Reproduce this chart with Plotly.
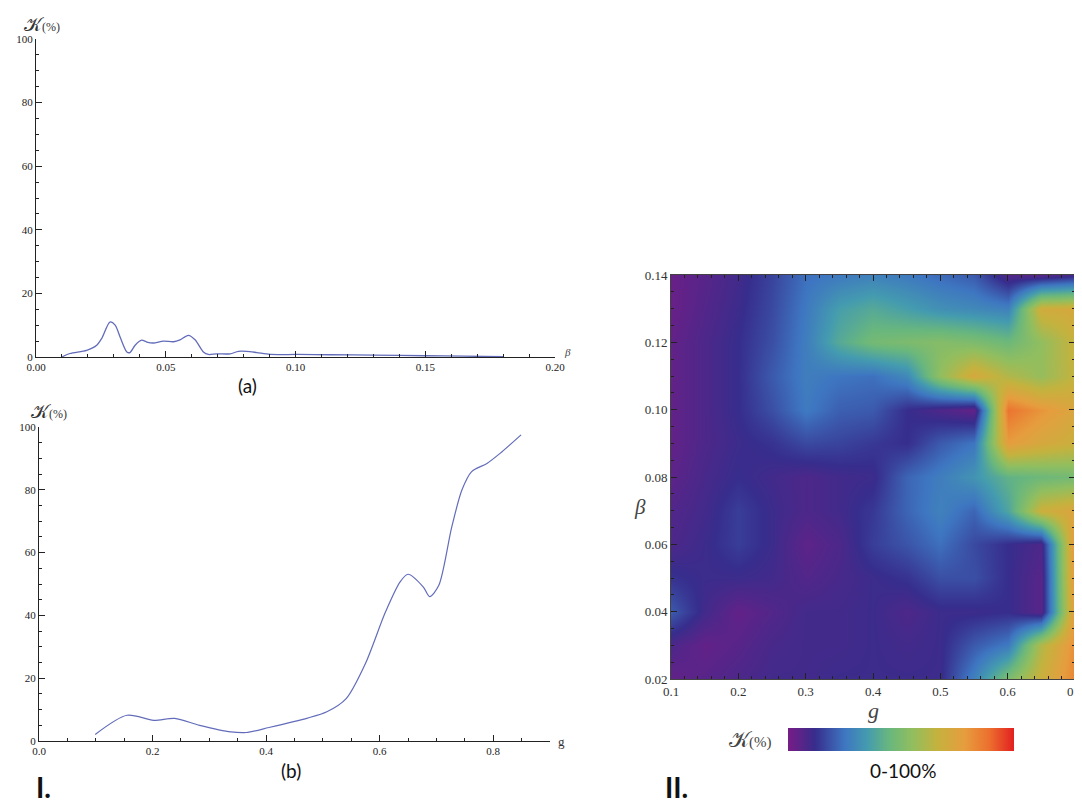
import plotly.graph_objects as go

# ---------------- data ----------------
# (a) K(%) vs beta
beta_a = [0.0099, 0.0131, 0.0195, 0.0234, 0.0253, 0.0285, 0.0305, 0.0324, 0.0350, 0.0362,
          0.0382, 0.0407, 0.0427, 0.0452, 0.0491, 0.0530, 0.0555, 0.0587, 0.0613, 0.0645,
          0.0664, 0.0696, 0.0748, 0.0780, 0.0812, 0.0851, 0.0902, 0.1005, 0.1134, 0.13,
          0.15, 0.165, 0.18]
K_a = [0.0, 1.1, 2.1, 3.7, 5.8, 11.0, 10.0, 6.3, 1.6, 1.4,
       3.7, 5.3, 4.7, 4.4, 5.0, 4.8, 5.4, 6.8, 5.4, 1.6,
       0.8, 1.0, 1.0, 1.8, 1.8, 1.4, 0.8, 0.8, 0.7, 0.6,
       0.4, 0.25, 0.1]

# (b) K(%) vs g
g_b = [0.099, 0.155, 0.202, 0.239, 0.283, 0.338, 0.365, 0.405, 0.473, 0.507,
       0.541, 0.575, 0.610, 0.636, 0.650, 0.677, 0.688, 0.704, 0.727, 0.745,
       0.762, 0.789, 0.812, 0.849]
K_b = [2.1, 8.2, 6.6, 7.2, 5.0, 2.9, 2.7, 4.3, 7.3, 9.3,
       13.5, 24.7, 41.0, 50.7, 53.1, 49.0, 46.0, 49.5, 68.2, 80.0,
       85.8, 88.4, 91.6, 97.5]

# II. K(%) map over g and beta
g_grid = [0.10, 0.15, 0.20, 0.25, 0.30, 0.35, 0.40, 0.45, 0.50, 0.55, 0.60, 0.65, 0.70]
beta_grid = [0.02, 0.03, 0.04, 0.05, 0.06, 0.07, 0.08, 0.09, 0.10, 0.11, 0.12, 0.13, 0.14]
K_map = [
    # g: 0.10 0.15 0.20 0.25 0.30 0.35 0.40 0.45 0.50 0.55 0.60 0.65 0.70
    [4, 6, 8, 10, 10, 11, 11, 11, 11, 28, 50, 68, 84],      # beta 0.02
    [8, 4, 6, 9, 10, 10, 11, 10, 11, 20, 26, 62, 82],       # beta 0.03
    [20, 10, 4, 7, 10, 10, 11, 8, 11, 11, 12, 6, 80],       # beta 0.04
    [13, 11, 11, 10, 7, 9, 11, 13, 18, 18, 12, 6, 82],      # beta 0.05
    [8, 11, 15, 11, 5, 8, 15, 19, 24, 17, 12, 8, 82],       # beta 0.06
    [7, 10, 15, 11, 8, 10, 14, 22, 28, 22, 38, 68, 74],     # beta 0.07
    [5, 9, 12, 10, 8, 10, 11, 22, 27, 33, 43, 46, 48],      # beta 0.08
    [4, 8, 11, 13, 17, 16, 14, 12, 20, 25, 78, 72, 68],     # beta 0.09
    [4, 8, 12, 18, 26, 21, 20, 12, 8, 4, 88, 80, 73],       # beta 0.10
    [4, 8, 12, 20, 27, 25, 24, 30, 55, 72, 62, 56, 66],     # beta 0.11
    [4, 8, 12, 18, 27, 40, 48, 50, 52, 50, 46, 55, 67],     # beta 0.12
    [3, 7, 11, 17, 26, 36, 40, 36, 32, 30, 28, 70, 72],     # beta 0.13
    [3, 6, 10, 16, 24, 26, 28, 26, 23, 20, 7, 6, 10],       # beta 0.14
]

a_xticks = [0.00, 0.05, 0.10, 0.15, 0.20]
a_xticktext = ["0.00", "0.05", "0.10", "0.15", "0.20"]
b_xticks = [0.0, 0.2, 0.4, 0.6, 0.8]
b_xticktext = ["0.0", "0.2", "0.4", "0.6", "0.8"]
k_yticks = [0, 20, 40, 60, 80, 100]
map_xticks = [0.1, 0.2, 0.3, 0.4, 0.5, 0.6, 0.7]
map_xticktext = ["0.1", "0.2", "0.3", "0.4", "0.5", "0.6", "0.7"]
map_yticks = [0.02, 0.04, 0.06, 0.08, 0.10, 0.12, 0.14]
map_yticktext = ["0.02", "0.04", "0.06", "0.08", "0.10", "0.12", "0.14"]

rainbow = [
    [0.00, "rgb(120,28,134)"],
    [0.12, "rgb(55,45,140)"],
    [0.25, "rgb(62,118,193)"],
    [0.35, "rgb(68,155,175)"],
    [0.45, "rgb(105,183,125)"],
    [0.55, "rgb(145,190,95)"],
    [0.66, "rgb(196,178,62)"],
    [0.78, "rgb(230,157,62)"],
    [0.89, "rgb(236,112,46)"],
    [1.00, "rgb(226,32,32)"],
]

# the page body has an 8px default margin, so the figure starts at (8, 8)
OFF = 8
W, H = 1082 - OFF, 805 - OFF
def px(x):
    return (x - OFF) / W
def py(y):
    return 1 - (y - OFF) / H

line_col = "rgb(98,108,186)"
serif = "Liberation Serif"
K_TXT = "𝒦<span style='font-size:12px'>(%)</span>"

fig = go.Figure()

fig.add_trace(go.Scatter(x=beta_a, y=K_a, mode="lines", xaxis="x", yaxis="y",
                         line=dict(color=line_col, width=1.3, shape="spline", smoothing=0.8),
                         showlegend=False, hoverinfo="skip"))
fig.add_trace(go.Scatter(x=g_b, y=K_b, mode="lines", xaxis="x2", yaxis="y2",
                         line=dict(color=line_col, width=1.2, shape="spline", smoothing=0.8),
                         showlegend=False, hoverinfo="skip"))
fig.add_trace(go.Heatmap(x=g_grid, y=beta_grid, z=K_map, xaxis="x3", yaxis="y3",
                         zmin=0, zmax=100, colorscale=rainbow, zsmooth="best",
                         hoverinfo="skip",
                         colorbar=dict(orientation="h", x=px((788 + 1014) / 2), xanchor="center",
                                       y=py(728), yanchor="top", len=226 / W, lenmode="fraction",
                                       thickness=23, thicknessmode="pixels", outlinewidth=0,
                                       xpad=0, ypad=0, showticklabels=False, ticks="")))

axis_common = dict(showline=True, linecolor="#222", linewidth=1, showgrid=False, zeroline=False,
                   ticks="inside", tickcolor="#222", ticklen=6, tickwidth=1, automargin=False,
                   tickfont=dict(family=serif, size=11, color="#222"))

map_axis = dict(mirror="ticks", showline=True, linecolor="#444", linewidth=1, showgrid=False,
                zeroline=False, ticks="inside", tickcolor="#222", ticklen=6, tickwidth=1,
                automargin=False, ticklabeloverflow="allow",
                tickfont=dict(family=serif, size=13, color="#333"))

fig.update_layout(
    width=W, height=H, autosize=False,
    margin=dict(l=0, r=0, t=0, b=0, autoexpand=False),
    paper_bgcolor="white", plot_bgcolor="white",
    xaxis=dict(domain=[px(36), px(555)], range=[0, 0.2], anchor="y",
               tickvals=a_xticks, ticktext=a_xticktext,
               minor=dict(dtick=0.01, tick0=0, ticks="inside", ticklen=3, tickcolor="#222"),
               **axis_common),
    yaxis=dict(domain=[py(357), py(39)], range=[0, 100], anchor="x",
               tickvals=k_yticks,
               minor=dict(dtick=5, tick0=0, ticks="inside", ticklen=3, tickcolor="#222"),
               **axis_common),
    xaxis2=dict(domain=[px(39), px(550)], range=[0, 0.9], anchor="y2",
                tickvals=b_xticks, ticktext=b_xticktext,
                minor=dict(dtick=0.05, tick0=0, ticks="inside", ticklen=3, tickcolor="#222"),
                **axis_common),
    yaxis2=dict(domain=[py(741), py(427)], range=[0, 100], anchor="x2",
                tickvals=k_yticks,
                minor=dict(dtick=5, tick0=0, ticks="inside", ticklen=3, tickcolor="#222"),
                **axis_common),
    xaxis3=dict(domain=[px(671), px(1075)], range=[0.1, 0.7], anchor="y3",
                tickvals=map_xticks, ticktext=map_xticktext,
                minor=dict(dtick=0.02, tick0=0.1, ticks="inside", ticklen=3, tickcolor="#222"),
                **map_axis),
    yaxis3=dict(domain=[py(679), py(275)], range=[0.02, 0.14], anchor="x3",
                tickvals=map_yticks, ticktext=map_yticktext,
                minor=dict(dtick=0.005, tick0=0.02, ticks="inside", ticklen=3, tickcolor="#222"),
                **map_axis),
)

def ann(text, x, y, size, family=serif, color="#222", xanchor="center", yanchor="middle", bold=False):
    if bold:
        text = "<b>" + text + "</b>"
    fig.add_annotation(text=text, x=px(x), y=py(y), xref="paper", yref="paper",
                       showarrow=False, xanchor=xanchor, yanchor=yanchor,
                       font=dict(family=family, size=size, color=color))

# plot (a) labels
ann(K_TXT, 42, 24, 19, color="#333")
ann("<i>β</i>", 567, 352, 11, color="#444")
ann("(a)", 248, 385, 19, family="Lato", color="#111")
# plot (b) labels
ann(K_TXT, 49, 411, 19, color="#333")
ann("g", 561, 741, 13, color="#333")
ann("(b)", 291, 770, 19, family="Lato", color="#111")
ann("I.", 34, 806, 28, family="Lato", color="#111", xanchor="left", yanchor="bottom", bold=True)
# map labels
ann("<i>β</i>", 640, 507, 21, color="#444")
ann("<i>g</i>", 873, 710, 22, color="#444")
ann("𝒦<span style='font-size:15px'>(%)</span>", 750, 739, 22, color="#444")
ann("0-100%", 903, 770, 19, family="Lato", color="#111")
ann("II.", 663, 806, 28, family="Lato", color="#111", xanchor="left", yanchor="bottom", bold=True)

fig.write_html("out.html")
